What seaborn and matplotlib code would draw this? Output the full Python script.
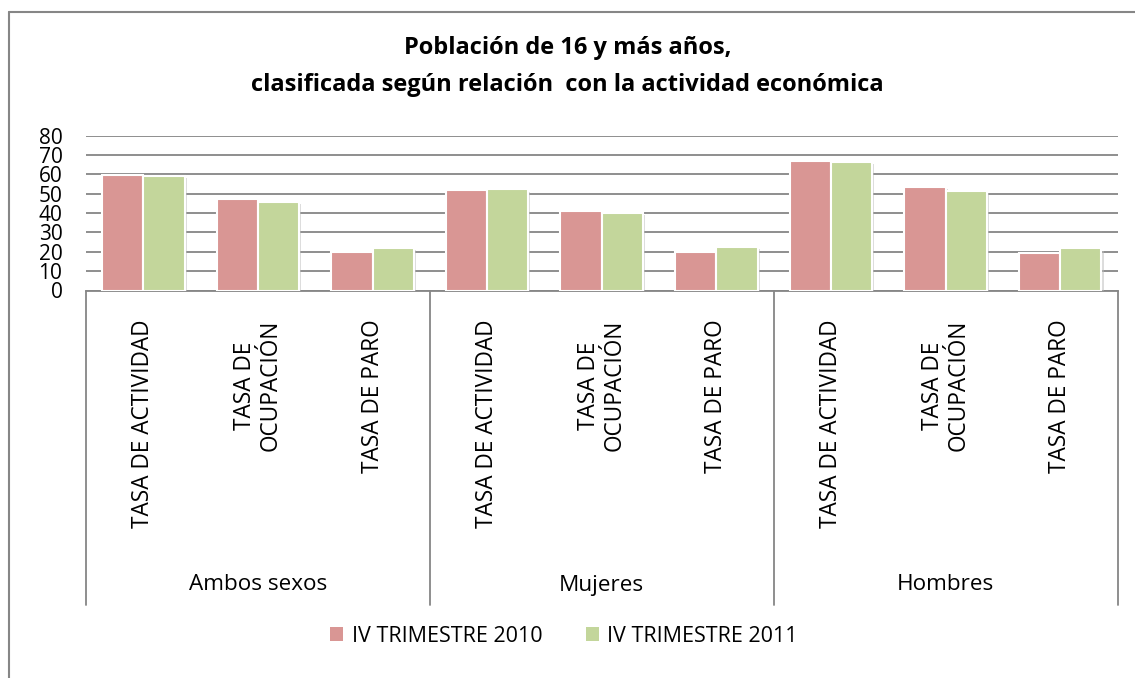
import numpy as np
import pandas as pd
import seaborn as sns
import matplotlib.pyplot as plt
from matplotlib.lines import Line2D
from matplotlib.patches import Patch
import matplotlib.patheffects as pe

groups = ["Ambos sexos", "Mujeres", "Hombres"]
indicators = ["TASA DE ACTIVIDAD", "TASA DE\nOCUPACIÓN", "TASA DE PARO"]
series = ["IV TRIMESTRE 2010", "IV TRIMESTRE 2011"]
vals_2010 = [59.5, 47.1, 19.7, 51.9, 41.0, 20.0, 67.0, 53.4, 19.3]
vals_2011 = [59.3, 45.7, 22.2, 52.2, 40.0, 22.6, 66.5, 51.5, 21.7]
colors = ["#D99694", "#C3D69B"]

rows = []
for i, g in enumerate(groups):
    for j, ind in enumerate(indicators):
        k = i * len(indicators) + j
        key = f"{g}|{ind}"
        rows.append([key, series[0], vals_2010[k]])
        rows.append([key, series[1], vals_2011[k]])
df = pd.DataFrame(rows, columns=["Cat", "Serie", "Valor"])
order = [f"{g}|{ind}" for g in groups for ind in indicators]

sns.set_style("white")
plt.rcParams["font.family"] = ["Open Sans", "DejaVu Sans"]
plt.rcParams["text.color"] = "black"
plt.rcParams["xtick.color"] = "black"
plt.rcParams["ytick.color"] = "black"

fig = plt.figure(figsize=(11.35, 6.78), dpi=100)
ax = fig.add_axes([86 / 1135, 1 - 290.5 / 678, (1117.5 - 86) / 1135, (290.5 - 135.6) / 678])

sns.barplot(data=df, x="Cat", y="Valor", hue="Serie", order=order,
            hue_order=series, palette=colors, width=0.72,
            edgecolor="white", linewidth=1.5, saturation=1, legend=False, ax=ax)
# sombra suave como en el original
for p in ax.patches:
    p.set_path_effects([pe.SimplePatchShadow(offset=(1.5, -1.5), shadow_rgbFace="#bbbbbb", alpha=0.5),
                        pe.Normal()])
    p.set_zorder(3)

ax.set_ylim(0, 80)
ax.set_xlim(-0.5, len(order) - 0.5)
ax.set_yticks(range(0, 81, 10))
ax.yaxis.grid(True, color="#868686", linewidth=1.3)
ax.set_axisbelow(True)
for s in ["top", "right", "left"]:
    ax.spines[s].set_visible(False)
ax.spines["bottom"].set_color("#868686")
ax.spines["bottom"].set_linewidth(1.3)
ax.tick_params(axis="y", length=0, pad=17, labelsize=15)
ax.tick_params(axis="x", length=0, pad=21, labelsize=16.3)
ax.set_xticks(range(len(order)))
ax.set_xticklabels([c.split("|")[1] for c in order], rotation=90, ha="center", va="top",
                   multialignment="center", linespacing=1.1)
ax.set_xlabel("")
ax.set_ylabel("")

# separadores y etiquetas de grupo
trans = ax.get_xaxis_transform()
h = 290.5 - 135.6
for b in [-0.5, 2.5, 5.5, 8.5]:
    ax.add_line(Line2D([b, b], [0, -(605 - 290.5) / h], transform=trans, color="#868686",
                       linewidth=1.3, clip_on=False))
for i, g in enumerate(groups):
    ax.text(i * 3 + 1, -(585 - 290.5) / h, g, transform=trans,
            ha="center", va="center", fontsize=16.2)

# marco exterior
fig.add_artist(Line2D([8.5 / 1135, 8.5 / 1135], [0, 1 - 11.5 / 678], color="#868686", linewidth=1.5))
fig.add_artist(Line2D([8.5 / 1135, 1], [1 - 11.5 / 678, 1 - 11.5 / 678], color="#868686", linewidth=1.5))

fig.text(0.5, 1 - 48 / 678, "Población de 16 y más años,", ha="center", va="center",
         fontsize=17, fontweight="bold")
fig.text(0.5, 1 - 85 / 678, "clasificada según relación  con la actividad económica", ha="center",
         va="center", fontsize=17, fontweight="bold")

handles = [Patch(facecolor=c, edgecolor="none") for c in colors]
fig.legend(handles, series, loc="center", bbox_to_anchor=(564 / 1135, 1 - 636 / 678), ncol=2,
           frameon=False, fontsize=15.5, handlelength=0.6, handleheight=0.6,
           handletextpad=0.4, columnspacing=2.0)

fig.savefig("out.png", dpi=100)
